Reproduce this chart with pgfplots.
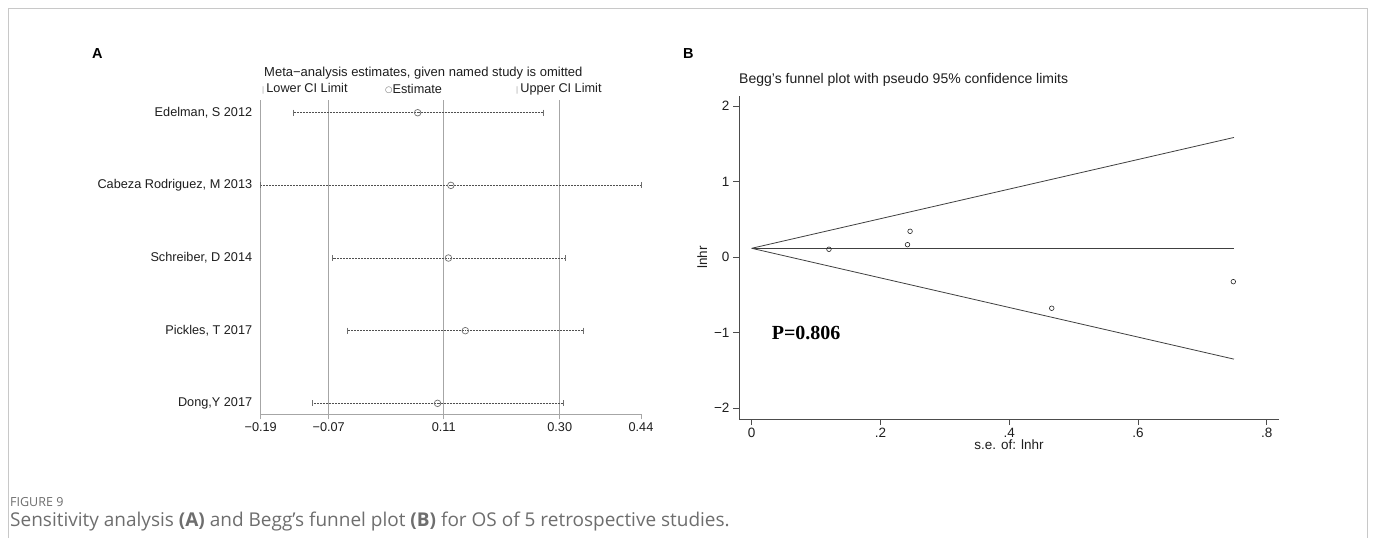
\documentclass[border=0pt]{standalone}
\usepackage{fontspec}
\setmainfont{Liberation Sans}
\newfontfamily\capfont{Open Sans}
\newfontfamily\timesfont{Liberation Serif}
\newfontfamily\symfont{DejaVu Sans}
\usepackage{pgfplots}
\usepackage{pgfplotstable}
\pgfplotsset{compat=1.18}

\definecolor{framegray}{HTML}{C8C8C8}
\definecolor{refgray}{HTML}{A6A6A6}
\definecolor{cigray}{HTML}{505050}
\definecolor{estgray}{HTML}{707070}
\definecolor{capgray}{HTML}{6E6E6E}
\definecolor{txt}{HTML}{1E1E1E}

\newcommand{\atext}{\fontsize{12.7}{15}\selectfont}
\newcommand{\btext}{\fontsize{13.5}{16}\selectfont}

% sensitivity analysis: row (5 = top), lower CI, estimate, upper CI
\pgfplotstableread{
row lo est hi
5 -0.136 0.070 0.278
4 -0.190 0.125 0.440
3 -0.071 0.121 0.314
2 -0.047 0.149 0.344
1 -0.105 0.103 0.311
}\sens

% Begg's funnel plot points
\pgfplotstableread{
se lnhr
0.120 0.106
0.242 0.167
0.246 0.344
0.466 -0.675
0.748 -0.323
}\begg

% funnel limits (pseudo 95%)
\pgfplotstableread{
se upper mid lower
0 0.119 0.119 0.119
0.749 1.587 0.119 -1.349
}\funnel

\begin{document}
\begin{tikzpicture}
\fill[white] (0pt,0pt) rectangle (1375pt,-538pt);
\path[use as bounding box] (0pt,0pt) rectangle (1375pt,-538pt);
\draw[framegray, line width=1pt] (8pt,-538pt) -- (8pt,-8pt) -- (1367pt,-8pt) -- (1367pt,-538pt);

% ---------------- panel A ----------------
\begin{axis}[
    at={(260.7pt,-414.3pt)}, anchor=south west,
    scale only axis, width=380.3pt, height=314.3pt,
    xmin=-0.19, xmax=0.44, ymin=0.849, ymax=5.175,
    axis x line*=bottom, axis y line*=left,
    axis line style={-, refgray, line width=0.8pt},
    xtick={-0.19,-0.0773,0.1132,0.3054,0.44},
    xticklabels={−0.19,−0.07,0.11,0.30,0.44},
    ytick={1,2,3,4,5},
    yticklabels={{Dong,Y 2017},{Pickles, T 2017},{Schreiber, D 2014},{Cabeza Rodriguez, M 2013},{Edelman, S 2012}},
    tick align=outside, major tick length=5pt,
    x tick style={refgray, line width=0.8pt},
    y tick style={draw=none},
    tick label style={font=\atext, text=txt},
    clip=false,
]
\addplot[refgray, line width=0.8pt] coordinates {(-0.0773,0.849) (-0.0773,5.175)};
\addplot[refgray, line width=0.8pt] coordinates {(0.1132,0.849) (0.1132,5.175)};
\addplot[refgray, line width=0.8pt] coordinates {(0.3054,0.849) (0.3054,5.175)};
\addplot[draw=none, mark=none,
    error bars/.cd, x dir=both, x explicit, error mark=none,
    error bar style={cigray, line width=0.8pt, dash pattern=on 0.8pt off 0.7pt}]
    table[x=est, y=row, x error plus expr=\thisrow{hi}-\thisrow{est}, x error minus expr=\thisrow{est}-\thisrow{lo}] {\sens};
\addplot[only marks, mark=|, mark size=3pt, mark options={estgray, line width=0.7pt}] table[x=lo, y=row] {\sens};
\addplot[only marks, mark=|, mark size=3pt, mark options={estgray, line width=0.7pt}] table[x=hi, y=row] {\sens};
\addplot[only marks, mark=o, mark size=3.3pt, mark options={estgray, line width=0.7pt}] table[x=est, y=row] {\sens};
\end{axis}

\node[anchor=west, font=\bfseries\fontsize{14.5}{16}\selectfont, text=black, inner sep=0pt] at (92pt,-54pt) {A};
\node[anchor=west, font=\fontsize{13}{15}\selectfont, text=txt, inner sep=0pt] at (264pt,-73pt) {Meta−analysis estimates, given named study is omitted};
\node[anchor=west, font=\atext, text=txt, inner sep=0pt] at (262pt,-89pt) {\textcolor{refgray}{\fontsize{8}{9}\selectfont|}\,Lower CI Limit};
\node[anchor=west, font=\atext, text=txt, inner sep=0pt] at (385pt,-89pt) {\textcolor{estgray}{\raisebox{1.2pt}{\symfont\fontsize{8.5}{9}\selectfont ○}}Estimate};
\node[anchor=west, font=\atext, text=txt, inner sep=0pt] at (516pt,-89pt) {\textcolor{refgray}{\fontsize{8}{9}\selectfont|}\,Upper CI Limit};

% ---------------- panel B ----------------
\begin{axis}[
    at={(739pt,-419pt)}, anchor=south west,
    scale only axis, width=540pt, height=323pt,
    xmin=-0.0197, xmax=0.819, ymin=-2.142, ymax=2.136,
    axis x line*=bottom, axis y line*=left,
    axis line style={-, black!70, line width=0.8pt},
    xtick={0,0.2,0.4,0.6,0.8}, xticklabels={0,.2,.4,.6,.8},
    ytick={-2,-1,0,1,2}, yticklabels={−2,−1,0,1,2},
    tick align=outside, major tick length=6pt,
    tick style={black!70, line width=0.8pt},
    tick label style={font=\btext, text=txt},
    xlabel={s.e. of: lnhr}, ylabel={lnhr},
    xlabel style={at={(axis description cs:0.5,-0.08)}, anchor=center, font=\btext, text=txt},
    ylabel style={at={(axis description cs:-0.068,0.5)}, anchor=center, font=\btext, text=txt},
    clip=false,
]
\addplot[black!75, line width=0.8pt] table[x=se, y=upper] {\funnel};
\addplot[black!75, line width=0.8pt] table[x=se, y=mid] {\funnel};
\addplot[black!75, line width=0.8pt] table[x=se, y=lower] {\funnel};
\addplot[only marks, mark=o, mark size=2.3pt, mark options={black!85, line width=0.6pt}] table[x=se, y=lnhr] {\begg};
\node[anchor=west, font=\timesfont\bfseries\fontsize{20}{24}\selectfont, text=black, inner sep=0pt] at (axis cs:0.031,-1.0) {P=0.806};
\end{axis}

\node[anchor=west, font=\bfseries\fontsize{14.5}{16}\selectfont, text=black, inner sep=0pt] at (683pt,-54pt) {B};
\node[anchor=west, font=\fontsize{14}{16}\selectfont, text=txt, inner sep=0pt] at (739pt,-80pt) {Begg’s funnel plot with pseudo 95\% confidence limits};

% ---------------- caption ----------------
\node[anchor=west, font=\capfont\fontsize{12.5}{15}\selectfont, text=capgray, inner sep=0pt] at (10pt,-502pt) {FIGURE 9};
\node[anchor=west, font=\capfont\fontsize{19}{22}\selectfont, text=capgray, inner sep=0pt] at (10pt,-522pt) {Sensitivity analysis \textbf{(A)} and Begg’s funnel plot \textbf{(B)} for OS of 5 retrospective studies.};
\end{tikzpicture}
\end{document}
